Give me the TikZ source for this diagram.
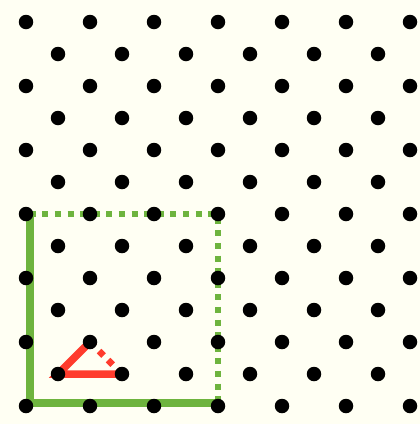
\documentclass[tikz,border=0pt]{standalone}
\usepackage{tikz}
\definecolor{paper}{RGB}{255,255,243}
\definecolor{leafgreen}{RGB}{110,180,62}
\definecolor{signalred}{RGB}{255,60,45}

\tikzset{
  gridpt/.style={circle, fill=black, inner sep=0pt, minimum size=14.5pt},
  sidesolid/.style={leafgreen, line width=8pt},
  sidedotted/.style={leafgreen, line width=6.5pt, dash pattern=on 6.4pt off 6.4pt, dash phase=9.6pt},
  legsolid/.style={signalred, line width=7.5pt},
  legdotted/.style={signalred, line width=6.5pt, dash pattern=on 6.4pt off 6.4pt}
}

\begin{document}
\begin{tikzpicture}[x=1pt, y=-1pt]
    % Paper
    \fill[paper] (0,0) rectangle (420,424);
    \useasboundingbox (0,0) rectangle (420,424);

    % Lattice points: rows A and shifted rows B
    \foreach \r in {0,...,6}
        \foreach \c in {0,...,6}
            \coordinate (A\r\c) at ({26+64*\c},{22+64*\r});
    \foreach \r in {0,...,5}
        \foreach \c in {0,...,5}
            \coordinate (B\r\c) at ({58+64*\c},{54+64*\r});

    % Square: two solid sides, two dotted sides
    \draw[sidesolid] ([xshift=4pt]A30) -- ([xshift=4pt, yshift=3pt]A60) -- ([yshift=3pt]A63);
    \draw[sidedotted] (A30) -- (A33) -- (A63);

    % Triangle
    \draw[legsolid] (A51) -- (B50) -- (B51);
    \draw[legdotted] (A51) -- (B51);

    % Dots on top
    \foreach \r in {0,...,6}
        \foreach \c in {0,...,6}
            \node[gridpt] (dA\r\c) at (A\r\c) {};
    \foreach \r in {0,...,5}
        \foreach \c in {0,...,5}
            \node[gridpt] (dB\r\c) at (B\r\c) {};
\end{tikzpicture}
\end{document}
